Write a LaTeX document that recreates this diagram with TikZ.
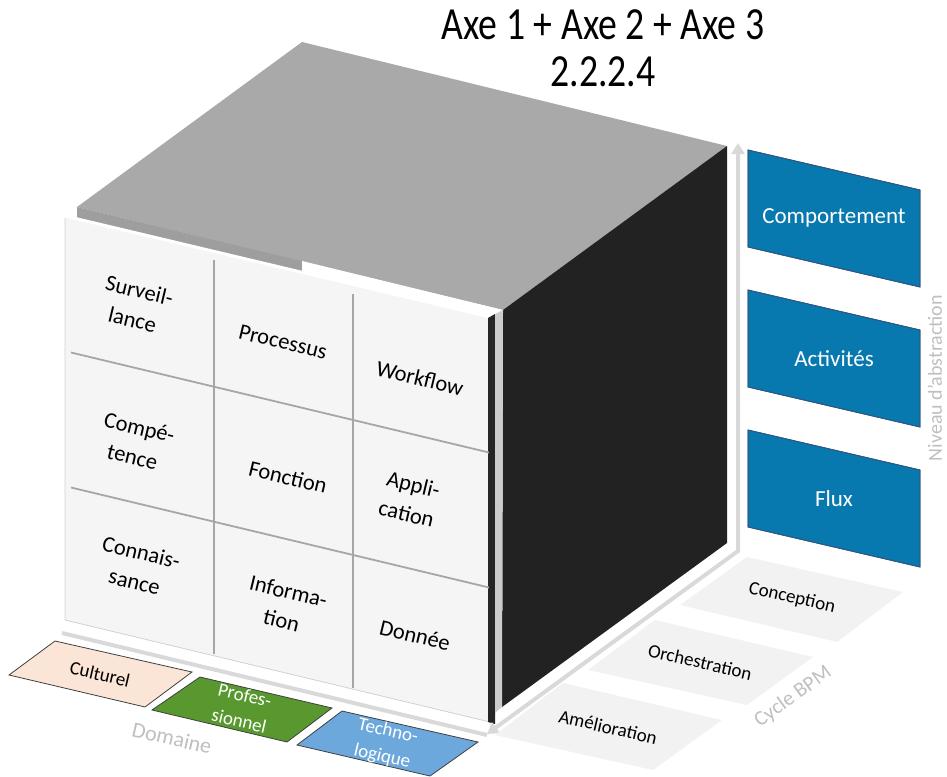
\documentclass[tikz,border=0pt]{standalone}
\usepackage{fontspec}
\setmainfont{Carlito}
\usetikzlibrary{arrows.meta}
\definecolor{topgray}{HTML}{AAA9AA}
\definecolor{bandgray}{HTML}{9E9E9E}
\definecolor{sideblack}{HTML}{222222}
\definecolor{panelfill}{HTML}{F5F5F5}
\definecolor{gridgray}{HTML}{A6A6A6}
\definecolor{axisgray}{HTML}{D9D9D9}
\definecolor{labelgray}{HTML}{BFBFBF}
\definecolor{boxblue}{HTML}{0879AE}
\definecolor{boxedge}{HTML}{2F5580}
\definecolor{cyclefill}{HTML}{F2F2F2}
\definecolor{peach}{HTML}{FBE5D6}
\definecolor{leafgreen}{HTML}{58982F}
\definecolor{skyblue}{HTML}{6CA8DB}
\begin{document}
\begin{tikzpicture}[x=1pt,y=-1pt,
  celltext/.style={font=\fontsize{22.5}{30}\selectfont, align=center, rotate=-13.5, inner sep=0pt},
  tiletext/.style={font=\fontsize{19}{26}\selectfont, align=center, rotate=-13, inner sep=0pt},
  bluetext/.style={font=\fontsize{23}{26}\selectfont, text=white, inner sep=0pt},
  axislabel/.style={font=\fontsize{21}{25}\selectfont, text=labelgray, inner sep=0pt},
  axisline/.style={draw=axisgray, line width=4pt, line join=miter},
  gridline/.style={draw=gridgray, line width=1.8pt},
  bluebox/.style={fill=boxblue, draw=boxedge, line width=0.8pt},
  domtile/.style={draw=black!75, line width=0.8pt}
]
\useasboundingbox (0,0) rectangle (947,776);

% title
\node (t1) at (603,25) {\fontsize{46}{50}\selectfont\scalebox{0.82}[1]{Axe 1 + Axe 2 + Axe 3}};
\node (t2) at (603,72) {\fontsize{46}{50}\selectfont\scalebox{0.82}[1]{2.2.2.4}};

% cube top and side
\fill[topgray] (302,42) -- (727,146) -- (503,310) -- (77,207) -- cycle;
\fill[sideblack] (727,146) -- (727,543) -- (502,707) -- (503,310) -- cycle;
\fill[bandgray] (77,207) -- (302,261) -- (302,275) -- (77,221) -- cycle;
\fill[white] (302,261) -- (503,310) -- (490,318) -- (302,275) -- cycle;

% front panel
\fill[panelfill] (65,216) -- (490,317) -- (490,722) -- (65,620) -- cycle;
\draw[white, line width=3pt] (65,216) -- (490,317);
\draw[black!18, line width=0.8pt] (65,218) -- (65,620) -- (490,722);
\fill[black!85] (488,318) -- (495,314) -- (495,724) -- (488,722) -- cycle;
\fill[black!20] (495,314) -- (503,310) -- (502,707) -- (495,713) -- cycle;

% grid
\draw[gridline] (71,352.5) -- (489,452.5);
\draw[gridline] (71,487.5) -- (489,587.5);
\draw[gridline] (214,260) -- (214,654);
\draw[gridline] (353,294) -- (353,688);

% cell labels
\node[celltext] (c11) at (136,305) {Surveil-\\lance};
\node[celltext] (c12) at (283,342) {Processus};
\node[celltext] (c13) at (420,378) {Workflow};
\node[celltext] (c21) at (136,442) {Compé-\\tence};
\node[celltext] (c22) at (288,477) {Fonction};
\node[celltext] (c23) at (410,499) {Appli-\\cation};
\node[celltext] (c31) at (138,567) {Connais-\\sance};
\node[celltext] (c32) at (285,606) {Informa-\\tion};
\node[celltext] (c33) at (415,635) {Donnée};

% axes
\coordinate (vtop) at (738,143);
\coordinate (corner) at (738,551);
\coordinate (front) at (487,734);
\coordinate (domstart) at (62,633);
\coordinate (domend) at (487,735);
\draw[axisline] (domstart) -- (domend);
\draw[axisline, {Triangle[length=11pt,width=13pt]}-{Triangle[length=11pt,width=13pt]}] (vtop) -- (corner) -- (front);

% blue boxes (Niveau d'abstraction)
\fill[bluebox] (748,150) -- (920,190) -- (920,287) -- (748,247) -- cycle;
\fill[bluebox] (748,290) -- (920,330) -- (920,427) -- (748,387) -- cycle;
\fill[bluebox] (748,430) -- (920,470) -- (920,567) -- (748,527) -- cycle;
\draw[boxedge, line width=0.8pt] (748,150) -- (920,190) -- (920,287) -- (748,247) -- cycle;
\draw[boxedge, line width=0.8pt] (748,290) -- (920,330) -- (920,427) -- (748,387) -- cycle;
\draw[boxedge, line width=0.8pt] (748,430) -- (920,470) -- (920,567) -- (748,527) -- cycle;
\node[bluetext] (b1) at (834,218) {Comportement};
\node[bluetext] (b2) at (834,359) {Activités};
\node[bluetext] (b3) at (834,499) {Flux};
\node[axislabel, rotate=90, font=\fontsize{20}{24}\selectfont] (niv) at (935,378) {Niveau d’abstraction};

% cycle BPM tiles
\fill[cyclefill] (747,557) -- (903,592) -- (837,642) -- (680,605) -- cycle;
\fill[cyclefill] (655,620) -- (813,657) -- (747,705) -- (588,670) -- cycle;
\fill[cyclefill] (563,683) -- (722,720) -- (653,770) -- (495,735) -- cycle;
\node[tiletext] (cy1) at (792,598) {Conception};
\node[tiletext] (cy2) at (700,662) {Orchestration};
\node[tiletext] (cy3) at (608,727) {Amélioration};
\node[axislabel, rotate=36] (cyc) at (793,697) {Cycle BPM};

% domaine tiles
\filldraw[domtile, fill=peach] (55,641) -- (192,672) -- (145,707) -- (9,675) -- cycle;
\filldraw[domtile, fill=leafgreen] (200,677) -- (332,708) -- (287,742) -- (152,710) -- cycle;
\filldraw[domtile, fill=skyblue] (342,711) -- (478,742) -- (430,776) -- (297,745) -- cycle;
\node[tiletext] (d1) at (100,674) {Culturel};
\node[tiletext, text=white] (d2) at (242,708) {Profes-\\sionnel};
\node[tiletext, text=white] (d3) at (385,744) {Techno-\\logique};
\node[axislabel, rotate=-13, font=\fontsize{22}{26}\selectfont] (dom) at (172,738) {Domaine};
\end{tikzpicture}
\end{document}
